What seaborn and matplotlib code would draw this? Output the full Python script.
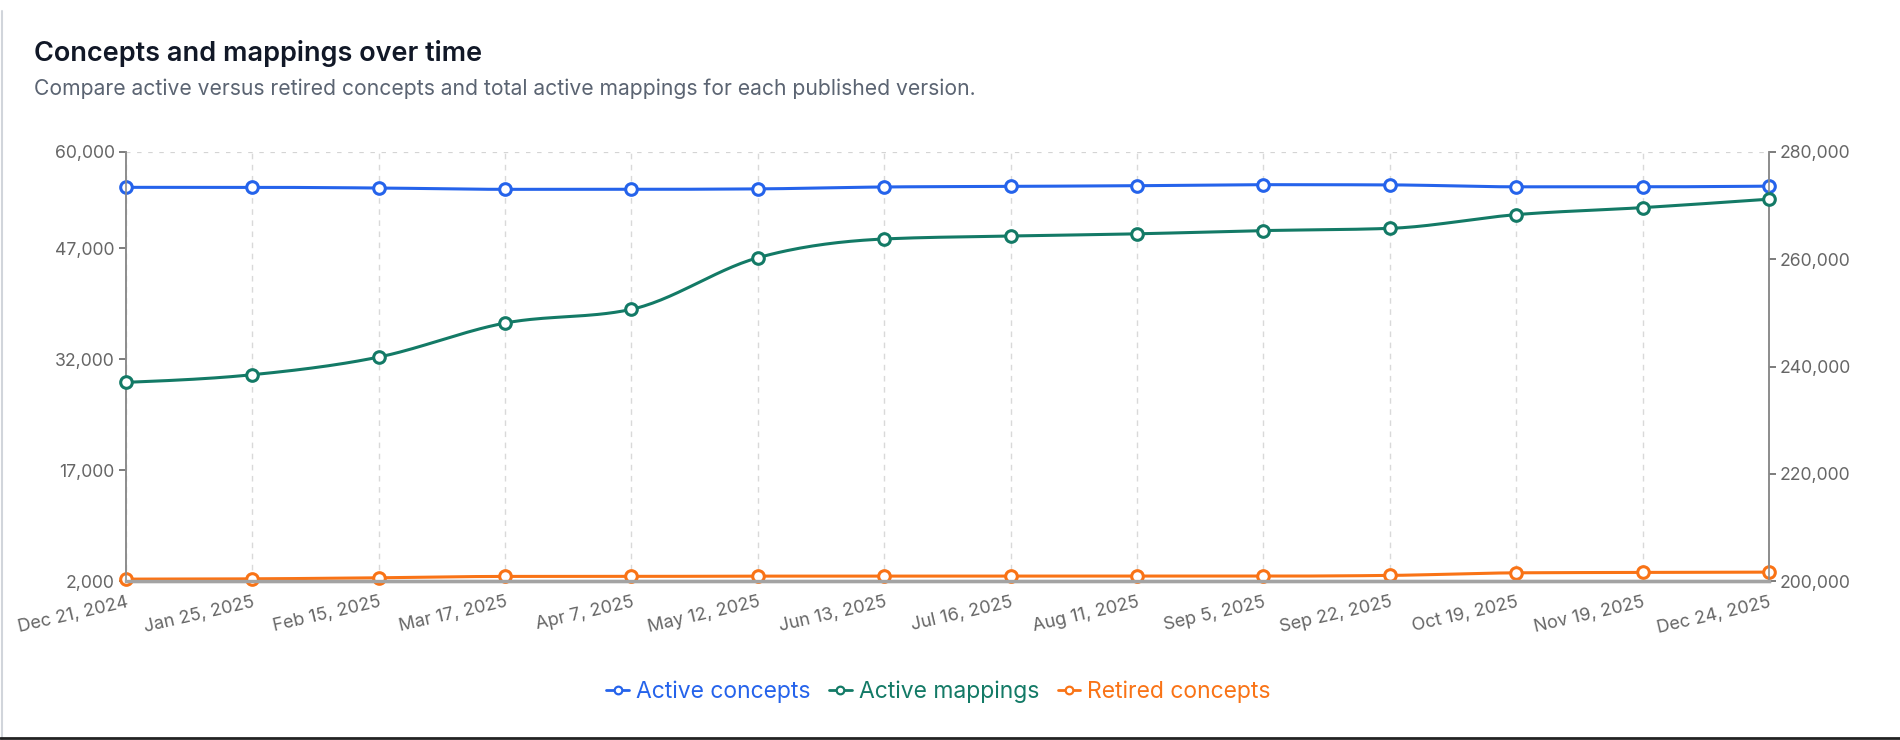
import numpy as np
import pandas as pd
import matplotlib
matplotlib.use("Agg")
import matplotlib.pyplot as plt
import seaborn as sns
from matplotlib.lines import Line2D
from matplotlib.ticker import FuncFormatter

# Published versions and their counts
version_dates = ["Dec 21, 2024", "Jan 25, 2025", "Feb 15, 2025", "Mar 17, 2025", "Apr 7, 2025",
                 "May 12, 2025", "Jun 13, 2025", "Jul 16, 2025", "Aug 11, 2025", "Sep 5, 2025",
                 "Sep 22, 2025", "Oct 19, 2025", "Nov 19, 2025", "Dec 24, 2025"]
active_concepts = [55190, 55190, 55100, 54920, 54920, 54980, 55240, 55320, 55410, 55550,
                   55520, 55260, 55260, 55350]
active_mappings = [237060, 238480, 241770, 248100, 250660, 260260, 263750, 264300, 264710, 265310,
                   265730, 268280, 269590, 271160]
retired_concepts = [2310, 2350, 2490, 2675, 2675, 2715, 2715, 2715, 2715, 2715,
                    2810, 3160, 3215, 3255]

left_ticks = [2000, 17000, 32000, 47000, 60000]
right_ticks = [200000, 220000, 240000, 260000, 280000]

BLUE = "#2563eb"
GREEN = "#137a66"
ORANGE = "#f97316"
TICK = "#666666"

sns.set_theme(style="white")
plt.rcParams["font.family"] = ["Inter", "DejaVu Sans"]

df = pd.DataFrame({"version": version_dates,
                   "active_concepts": active_concepts,
                   "active_mappings": active_mappings,
                   "retired_concepts": retired_concepts})
df["pos"] = np.arange(len(df))


def monotone_curve(x, y, n=30):
    # same shape as d3 curveMonotoneX, used only for drawing the line
    x = np.asarray(x, float)
    y = np.asarray(y, float)
    h = np.diff(x)
    s = np.diff(y) / h
    t = np.zeros_like(y)
    for i in range(1, len(y) - 1):
        p = (s[i - 1] * h[i] + s[i] * h[i - 1]) / (h[i - 1] + h[i])
        t[i] = (np.sign(s[i - 1]) + np.sign(s[i])) * min(abs(s[i - 1]), abs(s[i]), 0.5 * abs(p))
    t[0] = (3 * s[0] - t[1]) / 2
    t[-1] = (3 * s[-1] - t[-2]) / 2
    xs, ys = [], []
    for i in range(len(x) - 1):
        u = np.linspace(0, 1, n, endpoint=(i == len(x) - 2))
        h00 = 2 * u**3 - 3 * u**2 + 1
        h10 = u**3 - 2 * u**2 + u
        h01 = -2 * u**3 + 3 * u**2
        h11 = u**3 - u**2
        xs.append(x[i] + u * h[i])
        ys.append(h00 * y[i] + h10 * h[i] * t[i] + h01 * y[i + 1] + h11 * h[i] * t[i + 1])
    return np.concatenate(xs), np.concatenate(ys)


fig = plt.figure(figsize=(19, 7.4), dpi=100)
ax = fig.add_axes([0.0663, 0.2143, 0.8647, 0.5807])
ax2 = ax.twinx()

# grid: vertical dashed lines and dotted top line
for p in df["pos"]:
    ax.axvline(p, color="#d9d9d9", lw=1.0, ls=(0, (4, 4)), zorder=0)
ax.axhline(60000, color="#d4d4d4", lw=1.6, ls=(0, (2, 3)), zorder=0)


def draw_series(axis, col, color):
    cx, cy = monotone_curve(df["pos"], df[col])
    sns.lineplot(x=cx, y=cy, ax=axis, color=color, lw=2.2, sort=False, estimator=None, zorder=3)
    sns.scatterplot(data=df, x="pos", y=col, ax=axis, s=70, color="white", edgecolor=color,
                    linewidth=2.2, zorder=4, clip_on=False, legend=False)


draw_series(ax, "active_concepts", BLUE)
draw_series(ax, "retired_concepts", ORANGE)
draw_series(ax2, "active_mappings", GREEN)

ax.set_xlim(0, len(df) - 1)
ax.set_ylim(2000, 60000)
ax2.set_ylim(200000, 280000)
ax.set_yticks(left_ticks)
ax2.set_yticks(right_ticks)
fmt = FuncFormatter(lambda v, _: f"{int(v):,}")
ax.yaxis.set_major_formatter(fmt)
ax2.yaxis.set_major_formatter(fmt)
ax.set_xticks(df["pos"])
ax.set_xticklabels(df["version"], rotation=13, ha="right", rotation_mode="anchor")
ax.set_xlabel("")
ax.set_ylabel("")
ax2.set_ylabel("")

for a in (ax, ax2):
    a.tick_params(axis="both", colors=TICK, labelsize=12.7, length=5, width=1.2, pad=3,
                  labelcolor=TICK)
    a.spines["top"].set_visible(False)
    a.spines["left"].set_color("#8c8c8c")
    a.spines["right"].set_color("#8c8c8c")
    a.spines["left"].set_linewidth(1.2)
    a.spines["right"].set_linewidth(1.2)
    a.spines["bottom"].set_color("#a3a3a3")
    a.spines["bottom"].set_linewidth(2.4)
ax.tick_params(axis="x", pad=4, labelsize=13)

# title block
fig.text(0.0179, 0.928, "Concepts and mappings over time", fontsize=19.5, fontweight="semibold",
         color="#111827", va="center", ha="left")
fig.text(0.0179, 0.880, "Compare active versus retired concepts and total active mappings for each published version.",
         fontsize=15.2, color="#5b6472", va="center", ha="left")

# legend
handles = [Line2D([0], [0], color=c, lw=2, marker="o", markersize=5.5, markerfacecolor="white",
                  markeredgecolor=c, markeredgewidth=1.6)
           for c in (BLUE, GREEN, ORANGE)]
fig.legend(handles, ["Active concepts", "Active mappings", "Retired concepts"], loc="center",
           bbox_to_anchor=(0.494, 0.065), ncol=3, frameon=False, fontsize=16.5,
           labelcolor=[BLUE, GREEN, ORANGE], handlelength=1.0, handletextpad=0.3, columnspacing=0.8)

# card borders
fig.add_artist(Line2D([0.0008, 0.0008], [0.0, 0.985], transform=fig.transFigure, color="#d1d5db", lw=1.5))
fig.add_artist(Line2D([0.0, 1.0], [0.0025, 0.0025], transform=fig.transFigure, color="#222222", lw=2))

fig.savefig("out.png", dpi=100)
